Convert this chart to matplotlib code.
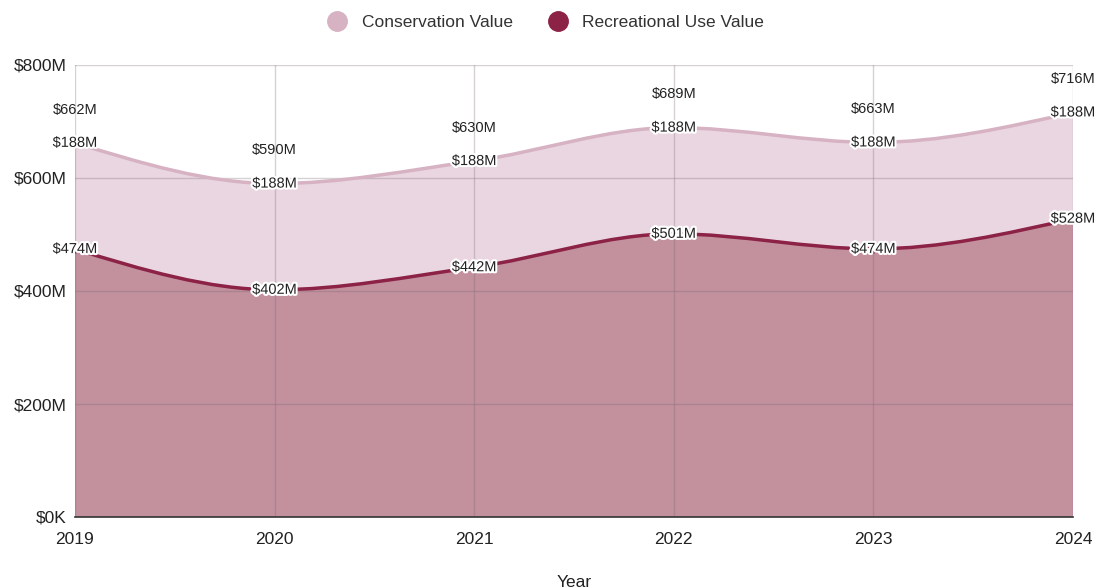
import numpy as np
import matplotlib
matplotlib.use("Agg")
from matplotlib import pyplot as plt
from matplotlib.path import Path
from matplotlib.patches import PathPatch
import matplotlib.patheffects as pe

plt.rcParams['font.family'] = ['Liberation Sans', 'DejaVu Sans']

years = [2019, 2020, 2021, 2022, 2023, 2024]
recreational = [474.2, 402.1, 442.0, 501.2, 474.5, 528.0]
conservation = [188.0, 188.0, 188.0, 188.0, 188.4, 188.0]
y_ticks = [0, 200, 400, 600, 800]
y_tick_labels = ["$0K", "$200M", "$400M", "$600M", "$800M"]

CONS_FILL = "#ead6e1"
CONS_LINE = "#d6b2c3"
REC_FILL = "#c3909e"
REC_LINE = "#8c2245"


def monotone_tangents(x, y):
    # same tangents as d3.curveMonotoneX
    n = len(x)
    t = np.zeros(n)
    for i in range(1, n - 1):
        h0, h1 = x[i] - x[i - 1], x[i + 1] - x[i]
        s0, s1 = (y[i] - y[i - 1]) / h0, (y[i + 1] - y[i]) / h1
        p = (s0 * h1 + s1 * h0) / (h0 + h1)
        t[i] = (np.sign(s0) + np.sign(s1)) * min(abs(s0), abs(s1), 0.5 * abs(p))
    h = x[1] - x[0]
    t[0] = (3 * (y[1] - y[0]) / h - t[1]) / 2
    h = x[-1] - x[-2]
    t[-1] = (3 * (y[-1] - y[-2]) / h - t[-2]) / 2
    return t


def curve_segments(x, y):
    t = monotone_tangents(x, y)
    segs = []
    for i in range(len(x) - 1):
        dx = (x[i + 1] - x[i]) / 3
        segs.append(((x[i], y[i]),
                     (x[i] + dx, y[i] + dx * t[i]),
                     (x[i + 1] - dx, y[i + 1] - dx * t[i + 1]),
                     (x[i + 1], y[i + 1])))
    return segs


def line_path(x, y):
    segs = curve_segments(x, y)
    verts = [segs[0][0]]
    codes = [Path.MOVETO]
    for s in segs:
        verts += [s[1], s[2], s[3]]
        codes += [Path.CURVE4] * 3
    return Path(verts, codes)


def area_path(x, top, bottom):
    top_segs = curve_segments(x, top)
    verts = [top_segs[0][0]]
    codes = [Path.MOVETO]
    for s in top_segs:
        verts += [s[1], s[2], s[3]]
        codes += [Path.CURVE4] * 3
    if bottom is None:
        verts += [(x[-1], 0), (x[0], 0), (x[0], top[0])]
        codes += [Path.LINETO] * 3
    else:
        bot_segs = curve_segments(x, bottom)
        verts.append(bot_segs[-1][3])
        codes.append(Path.LINETO)
        for s in reversed(bot_segs):
            verts += [s[2], s[1], s[0]]
            codes += [Path.CURVE4] * 3
        verts.append((x[0], top[0]))
        codes.append(Path.LINETO)
    return Path(verts, codes)


x = np.array(years, dtype=float)
rec = np.array(recreational)
total = rec + np.array(conservation)

fig = plt.figure(figsize=(10.99, 5.88), dpi=100)
ax = fig.add_axes([75 / 1099, 1 - 517 / 588, (1073 - 75) / 1099, (517 - 65) / 588])

ax.add_patch(PathPatch(area_path(x, total, rec), facecolor=CONS_FILL, edgecolor="none", zorder=1))
ax.add_patch(PathPatch(area_path(x, rec, None), facecolor=REC_FILL, edgecolor="none", zorder=1))

# grid drawn over fills, semi-transparent so it shows through
for yt in y_ticks[1:]:
    ax.axhline(yt, color="#7a6a70", alpha=0.3, lw=1, zorder=2)
for xv in years:
    ax.axvline(xv, color="#7a6a70", alpha=0.3, lw=1, zorder=2)

ax.add_patch(PathPatch(line_path(x, total), facecolor="none", edgecolor=CONS_LINE, lw=2.5, zorder=3))
ax.add_patch(PathPatch(line_path(x, rec), facecolor="none", edgecolor=REC_LINE, lw=2.5, zorder=3))
ax.scatter(x, total, s=22, color=CONS_LINE, zorder=4)
ax.scatter(x, rec, s=22, color=REC_LINE, zorder=4)

halo = [pe.withStroke(linewidth=3, foreground="white")]
for xi, r, c, tot in zip(x, rec, conservation, total):
    ax.text(xi, r, f"${r:.0f}M", ha="center", va="center", fontsize=10.5,
            color="#222222", path_effects=halo, zorder=5, clip_on=False)
    ax.text(xi, tot, f"${c:.0f}M", ha="center", va="center", fontsize=10.5,
            color="#222222", path_effects=halo, zorder=5, clip_on=False)
    ax.annotate(f"${tot:.0f}M", (xi, tot), xytext=(0, 24), textcoords="offset points",
                ha="center", va="center", fontsize=10.5, color="#222222", zorder=5,
                annotation_clip=False)

ax.set_xlim(years[0], years[-1])
ax.set_ylim(0, 800)
ax.set_yticks(y_ticks)
ax.set_yticklabels(y_tick_labels, fontsize=12.5, color="#222222")
ax.set_xticks(years)
ax.set_xticklabels([str(y) for y in years], fontsize=12.5, color="#222222")
ax.tick_params(axis="x", length=0, pad=11)
ax.tick_params(axis="y", length=0, pad=6)
for side in ["top", "right", "left"]:
    ax.spines[side].set_visible(False)
ax.spines["bottom"].set_color("#333333")
ax.spines["bottom"].set_linewidth(1.2)
ax.spines["bottom"].set_zorder(6)
ax.set_xlabel("Year", fontsize=12.5, color="#222222", labelpad=20)

# legend
handles = [plt.Line2D([], [], marker="o", ls="none", ms=14, color=CONS_LINE),
           plt.Line2D([], [], marker="o", ls="none", ms=14, color=REC_LINE)]
fig.legend(handles, ["Conservation Value", "Recreational Use Value"], loc="center",
           bbox_to_anchor=(542 / 1099, 1 - 22 / 588), ncol=2, frameon=False,
           fontsize=12.5, handletextpad=0.4, columnspacing=1.6, labelcolor="#333333")

fig.savefig("out.png", dpi=100)
